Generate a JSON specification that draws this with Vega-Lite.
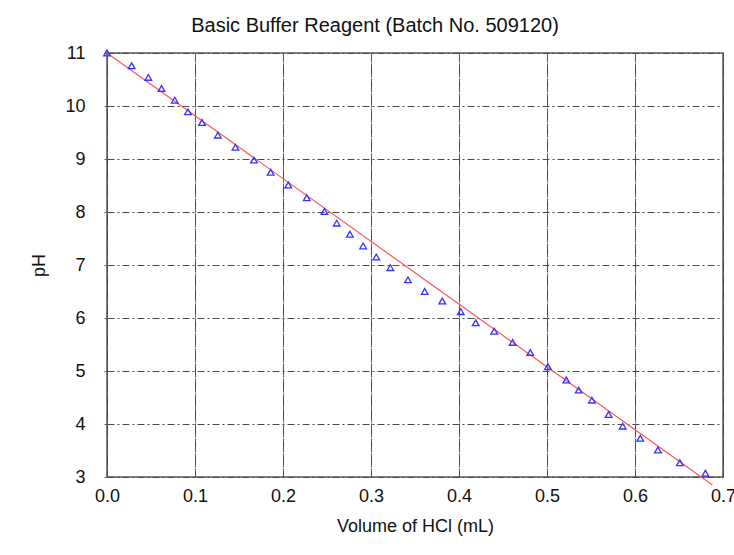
{
  "$schema": "https://vega.github.io/schema/vega-lite/v6.json",
  "width": 616,
  "height": 424,
  "autosize": {"type": "none"},
  "padding": {"left": 107, "top": 53, "right": 11, "bottom": 78},
  "background": "white",
  "title": {
    "text": "Basic Buffer Reagent (Batch No. 509120)",
    "font": "Liberation Sans",
    "fontSize": 20,
    "fontWeight": "normal",
    "color": "#111111",
    "offset": 8,
    "dx": -40
  },
  "datasets": {
    "titration": [
      {"volume": 0.000, "pH": 11.00},
      {"volume": 0.028, "pH": 10.76},
      {"volume": 0.047, "pH": 10.54},
      {"volume": 0.062, "pH": 10.33},
      {"volume": 0.077, "pH": 10.11},
      {"volume": 0.092, "pH": 9.89},
      {"volume": 0.108, "pH": 9.69},
      {"volume": 0.126, "pH": 9.45},
      {"volume": 0.146, "pH": 9.22},
      {"volume": 0.167, "pH": 8.98},
      {"volume": 0.186, "pH": 8.75},
      {"volume": 0.206, "pH": 8.51},
      {"volume": 0.227, "pH": 8.27},
      {"volume": 0.247, "pH": 8.01},
      {"volume": 0.261, "pH": 7.79},
      {"volume": 0.276, "pH": 7.58},
      {"volume": 0.291, "pH": 7.36},
      {"volume": 0.306, "pH": 7.15},
      {"volume": 0.322, "pH": 6.95},
      {"volume": 0.342, "pH": 6.72},
      {"volume": 0.361, "pH": 6.50},
      {"volume": 0.381, "pH": 6.32},
      {"volume": 0.402, "pH": 6.12},
      {"volume": 0.419, "pH": 5.91},
      {"volume": 0.440, "pH": 5.75},
      {"volume": 0.461, "pH": 5.54},
      {"volume": 0.481, "pH": 5.35},
      {"volume": 0.501, "pH": 5.08},
      {"volume": 0.522, "pH": 4.83},
      {"volume": 0.536, "pH": 4.64},
      {"volume": 0.551, "pH": 4.45},
      {"volume": 0.570, "pH": 4.18},
      {"volume": 0.586, "pH": 3.96},
      {"volume": 0.606, "pH": 3.73},
      {"volume": 0.626, "pH": 3.51},
      {"volume": 0.651, "pH": 3.27},
      {"volume": 0.680, "pH": 3.07}
    ],
    "fit": [
      {"volume": 0.0, "pH": 11.0},
      {"volume": 0.688, "pH": 2.85}
    ]
  },
  "config": {
    "view": {"stroke": "#5a5a5a", "strokeWidth": 1.5},
    "axis": {
      "labelFont": "Liberation Sans",
      "titleFont": "Liberation Sans",
      "labelFontSize": 18,
      "titleFontSize": 18,
      "titleFontWeight": "normal",
      "labelColor": "#111111",
      "titleColor": "#111111",
      "domain": false,
      "gridColor": "#4a4a4a",
      "gridOpacity": 1,
      "gridWidth": 1,
      "gridDash": [7, 3, 2, 3],
      "tickColor": "#5a5a5a"
    }
  },
  "resolve": {"axis": {"x": "independent"}},
  "layer": [
    {
      "data": {"name": "fit"},
      "mark": {"type": "line", "color": "#ff5555", "strokeWidth": 1.2, "clip": false},
      "encoding": {
        "x": {
          "field": "volume", "type": "quantitative",
          "scale": {"domain": [0, 0.7], "nice": false, "zero": false},
          "axis": {"orient": "top", "labels": false, "title": null, "grid": true, "ticks": true, "tickSize": -5, "values": [0, 0.1, 0.2, 0.3, 0.4, 0.5, 0.6, 0.7]}
        },
        "y": {
          "field": "pH", "type": "quantitative",
          "scale": {"domain": [3, 11], "nice": false, "zero": false}
        }
      }
    },
    {
      "data": {"name": "titration"},
      "mark": {"type": "point", "shape": "triangle-up", "filled": false, "color": "#3333ff", "strokeWidth": 1.3, "size": 44, "opacity": 1},
      "encoding": {
        "x": {
          "field": "volume", "type": "quantitative",
          "scale": {"domain": [0, 0.7], "nice": false, "zero": false},
          "axis": {"orient": "bottom", "title": "Volume of HCl (mL)", "format": ".1f", "values": [0, 0.1, 0.2, 0.3, 0.4, 0.5, 0.6, 0.7], "grid": true, "ticks": false, "labelPadding": 10, "titlePadding": 12, "labelFlush": false, "labelOverlap": false}
        },
        "y": {
          "field": "pH", "type": "quantitative",
          "scale": {"domain": [3, 11], "nice": false, "zero": false},
          "axis": {"title": "pH", "values": [3, 4, 5, 6, 7, 8, 9, 10, 11], "ticks": true, "tickSize": 3, "labelPadding": 19, "titlePadding": 16, "labelFlush": false, "labelOverlap": false}
        }
      }
    }
  ]
}
